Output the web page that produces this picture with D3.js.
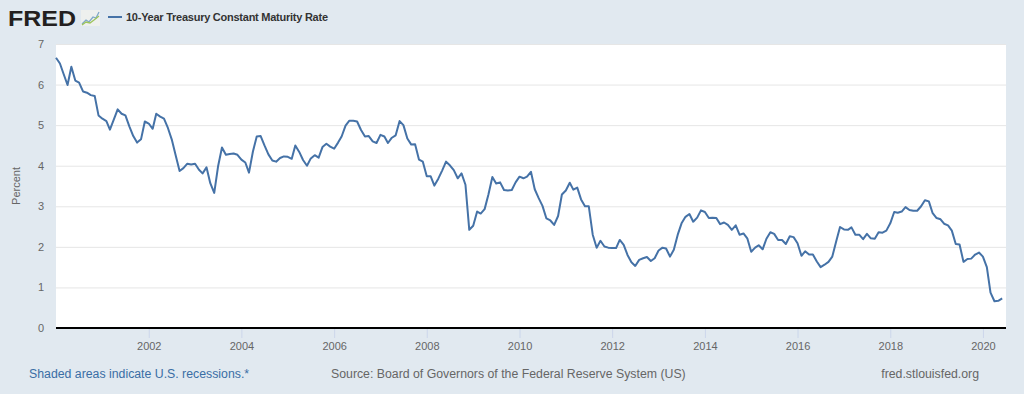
<!DOCTYPE html>
<html>
<head>
<meta charset="utf-8">
<script src="https://cdn.jsdelivr.net/npm/d3@7"></script>
<style>
  html, body { margin: 0; padding: 0; background: #e1e9f0; }
  svg { display: block; font-family: "Liberation Sans", Arial, sans-serif; }
</style>
</head>
<body>
<script>
// monthly 10-year rate, Jan 2000 .. Jun 2020
const firstMonth = new Date(2000, 0, 1);
const rates = [
  6.66, 6.52, 6.26, 5.99, 6.44, 6.10, 6.05, 5.83, 5.80, 5.74, 5.72, 5.24,
  5.16, 5.10, 4.89, 5.14, 5.39, 5.28, 5.24, 4.97, 4.73, 4.57, 4.65, 5.09,
  5.04, 4.91, 5.28, 5.21, 5.16, 4.93, 4.65, 4.26, 3.87, 3.94, 4.05, 4.03,
  4.05, 3.90, 3.81, 3.96, 3.57, 3.33, 3.98, 4.45, 4.27, 4.29, 4.30, 4.27,
  4.15, 4.08, 3.83, 4.35, 4.72, 4.73, 4.50, 4.28, 4.13, 4.10, 4.19, 4.23,
  4.22, 4.17, 4.50, 4.34, 4.14, 4.00, 4.18, 4.26, 4.20, 4.46, 4.54, 4.47,
  4.42, 4.57, 4.72, 4.99, 5.11, 5.11, 5.09, 4.88, 4.72, 4.73, 4.60, 4.56,
  4.76, 4.72, 4.56, 4.69, 4.75, 5.10, 5.00, 4.67, 4.52, 4.53, 4.15, 4.10,
  3.74, 3.74, 3.51, 3.68, 3.88, 4.10, 4.01, 3.89, 3.69, 3.81, 3.53, 2.42,
  2.52, 2.87, 2.82, 2.93, 3.29, 3.72, 3.56, 3.59, 3.40, 3.39, 3.40, 3.59,
  3.73, 3.69, 3.73, 3.85, 3.42, 3.20, 3.01, 2.70, 2.65, 2.54, 2.76, 3.29,
  3.39, 3.58, 3.41, 3.46, 3.17, 3.00, 3.00, 2.30, 1.98, 2.15, 2.01, 1.98,
  1.97, 1.97, 2.17, 2.05, 1.80, 1.62, 1.53, 1.68, 1.72, 1.75, 1.65, 1.72,
  1.91, 1.98, 1.96, 1.76, 1.93, 2.30, 2.58, 2.74, 2.81, 2.62, 2.72, 2.90,
  2.86, 2.71, 2.72, 2.71, 2.56, 2.60, 2.54, 2.42, 2.53, 2.30, 2.33, 2.21,
  1.88, 1.98, 2.04, 1.94, 2.20, 2.36, 2.32, 2.17, 2.17, 2.07, 2.26, 2.24,
  2.09, 1.78, 1.89, 1.81, 1.81, 1.64, 1.50, 1.56, 1.63, 1.76, 2.14, 2.49,
  2.43, 2.42, 2.48, 2.30, 2.30, 2.19, 2.32, 2.21, 2.20, 2.36, 2.35, 2.40,
  2.58, 2.86, 2.84, 2.87, 2.98, 2.91, 2.89, 2.89, 3.00, 3.15, 3.12, 2.83,
  2.71, 2.68, 2.57, 2.53, 2.40, 2.07, 2.06, 1.63, 1.70, 1.71, 1.81, 1.86,
  1.76, 1.50, 0.87, 0.66, 0.67, 0.73
];
const yearTicks = [2002, 2004, 2006, 2008, 2010, 2012, 2014, 2016, 2018, 2020];
const percentTicks = [0, 1, 2, 3, 4, 5, 6, 7];

const seriesName = "10-Year Treasury Constant Maturity Rate";
const footLeft = "Shaded areas indicate U.S. recessions.*";
const footMid = "Source: Board of Governors of the Federal Reserve System (US)";
const footRight = "fred.stlouisfed.org";

const W = 1024, H = 394;
const plot = { left: 56, right: 1006, top: 44, bottom: 328 };

const data = rates.map((v, i) => ({ date: d3.timeMonth.offset(firstMonth, i), value: v }));

const svg = d3.select("body").append("svg")
  .attr("width", W)
  .attr("height", H);

svg.append("rect").attr("width", W).attr("height", H).attr("fill", "#e1e9f0");

const x = d3.scaleTime()
  .domain([firstMonth, new Date(2020, 6, 1)])
  .range([plot.left, plot.right]);

const y = d3.scaleLinear()
  .domain([0, 7])
  .range([plot.bottom, plot.top]);

// plot background
svg.append("rect")
  .attr("x", plot.left)
  .attr("y", plot.top)
  .attr("width", plot.right - plot.left)
  .attr("height", plot.bottom - plot.top)
  .attr("fill", "#fff");

// gridlines + y labels
const yAxis = svg.append("g")
  .attr("transform", `translate(${plot.left},0)`)
  .call(d3.axisLeft(y)
    .tickValues(percentTicks)
    .tickFormat(d3.format("d"))
    .tickSize(-(plot.right - plot.left))
    .tickPadding(12));
yAxis.select(".domain").remove();
yAxis.selectAll(".tick line").attr("stroke", "#e6e6e6").attr("stroke-width", 1);
yAxis.selectAll(".tick text")
  .attr("fill", "#666")
  .style("font-size", "11px");

// x axis
const xAxis = svg.append("g")
  .attr("transform", `translate(0,${plot.bottom})`)
  .call(d3.axisBottom(x)
    .tickValues(yearTicks.map(yr => new Date(yr, 0, 1)))
    .tickFormat(d3.timeFormat("%Y"))
    .tickSize(10)
    .tickPadding(4));
xAxis.select(".domain").remove();
xAxis.selectAll(".tick line").attr("stroke", "#ccd6eb");
xAxis.selectAll(".tick text")
  .attr("fill", "#666")
  .style("font-size", "11px");

svg.append("line")
  .attr("x1", plot.left).attr("x2", plot.right)
  .attr("y1", plot.bottom).attr("y2", plot.bottom)
  .attr("stroke", "#000")
  .attr("stroke-width", 2);

// the series
const line = d3.line()
  .x(d => x(d.date))
  .y(d => y(d.value));

svg.append("path")
  .datum(data)
  .attr("d", line)
  .attr("fill", "none")
  .attr("stroke", "#4572a7")
  .attr("stroke-width", 2)
  .attr("stroke-linejoin", "round");

// y title
svg.append("text")
  .attr("transform", `translate(20,${(plot.top + plot.bottom) / 2}) rotate(-90)`)
  .attr("text-anchor", "middle")
  .attr("fill", "#666")
  .style("font-size", "11px")
  .text("Percent");

// header: logo + legend
svg.append("text")
  .attr("x", 8).attr("y", 26)
  .attr("fill", "#231f20")
  .style("font-size", "22px")
  .style("font-weight", "bold")
  .attr("textLength", 68)
  .attr("lengthAdjust", "spacingAndGlyphs")
  .text("FRED");

const icon = svg.append("g").attr("transform", "translate(81,10)");
icon.append("rect").attr("width", 19).attr("height", 16).attr("fill", "#eef0ee");
icon.append("polyline")
  .attr("points", "1,14 5,10 8,12 12,7 15,8 18,2")
  .attr("fill", "none").attr("stroke", "#7fa8c9").attr("stroke-width", 1.3);
icon.append("polyline")
  .attr("points", "1,15 5,12 9,13 13,10 18,6")
  .attr("fill", "none").attr("stroke", "#9cc45a").attr("stroke-width", 1.3);

svg.append("line")
  .attr("x1", 108).attr("x2", 122)
  .attr("y1", 17).attr("y2", 17)
  .attr("stroke", "#4572a7").attr("stroke-width", 2);

svg.append("text")
  .attr("x", 126).attr("y", 21)
  .attr("fill", "#333")
  .style("font-size", "11px")
  .style("font-weight", "bold")
  .attr("textLength", 202)
  .text(seriesName);

// footer
svg.append("text")
  .attr("x", 29).attr("y", 378)
  .attr("fill", "#3a6ea5")
  .style("font-size", "12.3px")
  .text(footLeft);

svg.append("text")
  .attr("x", 331).attr("y", 378)
  .attr("fill", "#666")
  .style("font-size", "12.3px")
  .text(footMid);

svg.append("text")
  .attr("x", 979).attr("y", 378)
  .attr("text-anchor", "end")
  .attr("fill", "#666")
  .style("font-size", "12.3px")
  .text(footRight);
</script>
</body>
</html>
